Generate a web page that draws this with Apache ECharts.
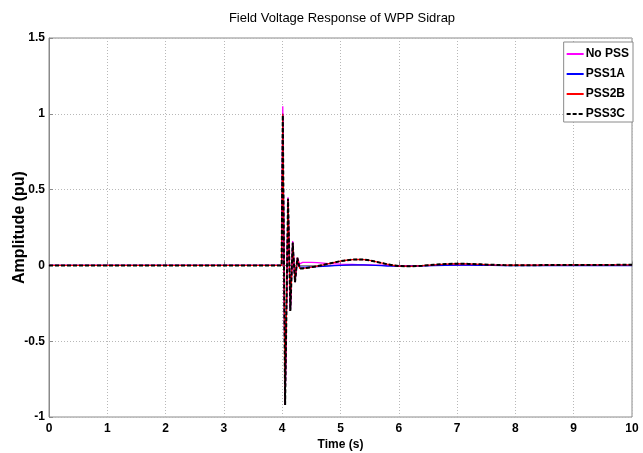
<!DOCTYPE html>
<html>
<head>
<meta charset="utf-8">
<script src="https://cdn.jsdelivr.net/npm/echarts@6/dist/echarts.min.js"></script>
<style>
  html, body { margin: 0; padding: 0; background: #fff; }
  #chart { width: 643px; height: 453px; }
</style>
</head>
<body>
<div id="chart"></div>
<script>
// Field voltage of WPP Sidrap after the disturbance at t = 4 s
const timeS = [0, 3.99, 4.01, 4.05, 4.10, 4.14, 4.18, 4.22, 4.26, 4.30, 4.35, 4.40, 4.50, 4.60, 4.70, 4.80, 4.90, 5.00, 5.10, 5.20, 5.30, 5.40, 5.50, 5.60, 5.70, 5.80, 5.90, 6.00, 6.20, 6.40, 6.60, 6.80, 7.00, 7.20, 7.40, 7.60, 7.80, 8.00, 8.50, 9.00, 9.50, 10.00];

const noPss = [0, 0, 1.05, -0.92, 0.45, -0.30, 0.16, -0.10, 0.05, 0.01, 0.02, 0.02, 0.02, 0.018, 0.015, 0.012, 0.01, 0.008, 0.007, 0.006, 0.005, 0.004, 0.003, 0.002, 0.001, 0, -0.002, -0.003, -0.004, -0.002, 0, 0.002, 0.003, 0.003, 0.002, 0.001, 0, 0, 0.001, 0, 0.001, 0];
const pss1a = [0, 0, 1.0, -0.92, 0.44, -0.30, 0.15, -0.11, 0.04, -0.01, -0.012, -0.012, -0.01, -0.008, -0.006, -0.004, -0.002, 0, 0.002, 0.003, 0.004, 0.003, 0.002, 0, -0.002, -0.004, -0.005, -0.006, -0.005, -0.003, -0.001, 0.001, 0.002, 0.002, 0.001, 0, -0.001, -0.002, -0.002, -0.001, -0.002, -0.001];
const pss2b = [0, 0, 1.0, -0.92, 0.44, -0.30, 0.15, -0.11, 0.05, -0.02, -0.02, -0.018, -0.012, -0.005, 0.003, 0.012, 0.02, 0.028, 0.034, 0.038, 0.04, 0.038, 0.033, 0.025, 0.016, 0.008, 0.001, -0.004, -0.006, -0.002, 0.004, 0.009, 0.011, 0.01, 0.007, 0.004, 0.002, 0.001, 0.002, 0.003, 0.003, 0.004];
const pss3c = [0, 0, 0.99, -0.92, 0.44, -0.30, 0.15, -0.11, 0.05, -0.02, -0.02, -0.018, -0.012, -0.005, 0.003, 0.012, 0.02, 0.028, 0.034, 0.038, 0.04, 0.038, 0.033, 0.025, 0.016, 0.008, 0.001, -0.004, -0.006, -0.002, 0.004, 0.009, 0.011, 0.01, 0.007, 0.004, 0.002, 0.001, 0.002, 0.003, 0.003, 0.004];

const seriesNames = ['No PSS', 'PSS1A', 'PSS2B', 'PSS3C'];
const seriesValues = [noPss, pss1a, pss2b, pss3c];
const seriesColors = ['#ff00ff', '#0000ff', '#ff0000', '#000000'];

const xTicks = { min: 0, max: 10, interval: 1 };
const yTicks = { min: -1, max: 1.5, interval: 0.5 };

const sans = "'Liberation Sans', Arial, sans-serif";

function pairs(vals) {
  return timeS.map((t, i) => [t, vals[i]]);
}

const chart = echarts.init(document.getElementById('chart'), null, { renderer: 'canvas' });

chart.setOption({
  animation: false,
  backgroundColor: '#fff',
  title: {
    text: 'Field Voltage Response of WPP Sidrap',
    left: 337, top: 7, textAlign: 'center',
    textStyle: { fontFamily: sans, fontWeight: 'normal', fontSize: 13, color: '#000' }
  },
  grid: {
    left: 49, right: 11, top: 38, bottom: 36,
    containLabel: false, outerBoundsMode: 'none',
    show: true, borderColor: '#8a8a8a', borderWidth: 1, backgroundColor: '#fff'
  },
  legend: {
    orient: 'vertical', right: 10, top: 42,
    backgroundColor: '#fff', borderColor: '#8a8a8a', borderWidth: 1,
    padding: [6, 4, 2, 2], itemGap: 8, itemWidth: 17, itemHeight: 14,
    itemStyle: { opacity: 0 },
    textStyle: { fontFamily: sans, fontWeight: 'bold', fontSize: 12, color: '#000', padding: [0, 0, 0, -3] },
    data: seriesNames
  },
  xAxis: {
    type: 'value', min: xTicks.min, max: xTicks.max, interval: xTicks.interval,
    name: 'Time (s)', nameLocation: 'middle', nameGap: 22, nameMoveOverlap: false,
    nameTextStyle: { fontFamily: sans, fontWeight: 'bold', fontSize: 12, color: '#000' },
    axisLine: { show: true, lineStyle: { color: '#8a8a8a' } },
    axisTick: { show: true, inside: true, length: 4, lineStyle: { color: '#8a8a8a' } },
    axisLabel: { fontFamily: sans, fontWeight: 'bold', fontSize: 12, color: '#000', margin: 6 },
    splitLine: { show: true, lineStyle: { type: [1, 2], color: '#b8b8b8' } }
  },
  yAxis: {
    type: 'value', min: yTicks.min, max: yTicks.max, interval: yTicks.interval,
    name: 'Amplitude (pu)', nameLocation: 'middle', nameGap: 21, nameRotate: 90, nameMoveOverlap: false,
    nameTextStyle: { fontFamily: sans, fontWeight: 'bold', fontSize: 16, color: '#000' },
    axisLine: { show: true, lineStyle: { color: '#8a8a8a' } },
    axisTick: { show: true, inside: true, length: 4, lineStyle: { color: '#8a8a8a' } },
    axisLabel: { fontFamily: sans, fontWeight: 'bold', fontSize: 12, color: '#000', margin: 4 },
    splitLine: { show: true, lineStyle: { type: [1, 2], color: '#b8b8b8' } }
  },
  series: seriesNames.map((name, k) => ({
    name: name,
    type: 'line',
    data: pairs(seriesValues[k]),
    symbol: 'none',
    showSymbol: false,
    clip: true,
    z: 2 + k,
    lineStyle: {
      color: seriesColors[k],
      width: k === 3 ? 2 : 1.3,
      type: k === 3 ? [4, 2] : 'solid'
    },
    itemStyle: { color: seriesColors[k] }
  }))
});
</script>
</body>
</html>
